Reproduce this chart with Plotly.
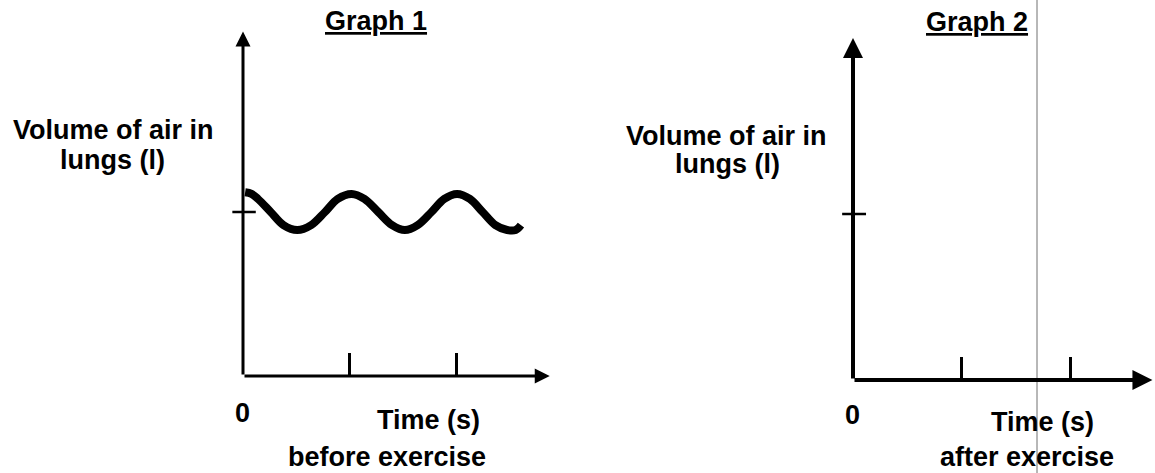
import plotly.graph_objects as go

W, H = 1155, 473

# Breathing trace recorded before exercise (time in tick units, volume in tick units)
time_before = [0.02, 0.08, 0.14, 0.26, 0.38, 0.51, 0.64, 0.77, 0.89, 1.02,
               1.14, 1.27, 1.40, 1.52, 1.64, 1.77, 1.89, 2.01, 2.13, 2.25,
               2.37, 2.48, 2.56, 2.61]
volume_before = [1.12, 1.11, 1.08, 1.00, 0.92, 0.89, 0.92, 1.00, 1.08, 1.11,
                 1.08, 1.00, 0.92, 0.89, 0.92, 1.00, 1.08, 1.11, 1.08, 1.00,
                 0.92, 0.89, 0.89, 0.92]

# Graph 2 is left blank for the student to complete
time_after = []
volume_after = []

x_ticks = [1, 2]
y_ticks = [1]

titles = ["Graph 1", "Graph 2"]
captions = ["before exercise", "after exercise"]
y_label_lines = ["Volume of air in", "lungs (l)"]
x_label = "Time (s)"
origin_label = "0"

FONT = "Liberation Sans, Arial, sans-serif"


def domain(px_origin, px_per_unit, r0, r1, size, flip=False):
    a = px_origin + r0 * px_per_unit
    b = px_origin + r1 * px_per_unit
    if flip:
        return [(size - a) / size, (size - b) / size]
    return [a / size, b / size]


def at(px, py):
    """Paper position from a pixel position on the page."""
    return px / W, 1 - py / H


# pixel anchors for each panel, plus where its text sits
panels = [
    dict(ox=243, ux=106.5, oy=376, uy=164, xr=[-0.3, 2.88], yr=[0, 2.10], lw=3,
         title=(376, 21), ylab=[(113, 130), (112, 160)], zero=(243, 413),
         xlab=(428, 420), cap=(387, 457)),
    dict(ox=853, ux=108.5, oy=380, uy=166, xr=[-0.3, 2.76], yr=[0, 2.06], lw=4,
         title=(977, 22), ylab=[(726, 136), (727, 164)], zero=(853, 415),
         xlab=(1042, 422), cap=(1027, 457)),
]

fig = go.Figure()

fig.add_trace(go.Scatter(
    x=time_before, y=volume_before, mode="lines",
    line=dict(color="black", width=8, shape="spline", smoothing=1.0),
    xaxis="x", yaxis="y", hoverinfo="skip", showlegend=False,
))
fig.add_trace(go.Scatter(
    x=time_after, y=volume_after, mode="lines",
    line=dict(color="black", width=8, shape="spline"),
    xaxis="x2", yaxis="y2", hoverinfo="skip", showlegend=False,
))

annotations = []
shapes = []
tfont = dict(family=FONT, size=27, color="black", weight=700)
for i, p in enumerate(panels):
    sfx = "" if i == 0 else str(i + 1)
    xa, ya = "x" + sfx, "y" + sfx
    xd = domain(p["ox"], p["ux"], p["xr"][0], p["xr"][1], W)
    yd = domain(p["oy"], -p["uy"], p["yr"][0], p["yr"][1], H, flip=True)
    common = dict(showgrid=False, zeroline=False, showline=False, fixedrange=True)
    fig.layout["xaxis" + sfx] = dict(
        domain=xd, range=p["xr"], anchor=ya, tickvals=x_ticks, ticks="inside",
        ticklen=23, tickwidth=2.5, tickcolor="black", showticklabels=False, **common)
    fig.layout["yaxis" + sfx] = dict(
        domain=yd, range=p["yr"], anchor=xa, showticklabels=False, ticks="", **common)

    # axes drawn as arrows
    annotations.append(dict(x=p["xr"][1], y=0, ax=0, ay=0, xref=xa, yref=ya,
                            axref=xa, ayref=ya, text="", showarrow=True,
                            arrowhead=2, arrowsize=1.0, arrowwidth=p["lw"],
                            arrowcolor="black"))
    annotations.append(dict(x=0, y=p["yr"][1], ax=0, ay=0, xref=xa, yref=ya,
                            axref=xa, ayref=ya, text="", showarrow=True,
                            arrowhead=2, arrowsize=1.0, arrowwidth=p["lw"],
                            arrowcolor="black"))
    # tick crossing the volume axis
    for yt in y_ticks:
        shapes.append(dict(type="line", xref=xa, yref=ya, x0=-0.1, x1=0.12,
                           y0=yt, y1=yt, line=dict(color="black", width=2.5)))

    items = [(p["zero"], origin_label), (p["xlab"], x_label),
             (p["cap"], captions[i]), (p["title"], "<u>" + titles[i] + "</u>")]
    items += list(zip(p["ylab"], y_label_lines))
    for pos, txt in items:
        x, y = at(*pos)
        annotations.append(dict(x=x, y=y, xref="paper", yref="paper", text=txt,
                                showarrow=False, font=tfont, align="center",
                                xanchor="center", yanchor="middle"))

# thin grey rule crossing the second panel
shapes.append(dict(type="line", xref="paper", yref="paper", x0=1037 / W,
                   x1=1037 / W, y0=0, y1=1, line=dict(color="#707070", width=1)))

fig.update_layout(
    width=W, height=H, margin=dict(l=0, r=0, t=0, b=0),
    paper_bgcolor="white", plot_bgcolor="white",
    annotations=annotations, shapes=shapes, showlegend=False,
    font=dict(family=FONT, color="black"),
)

fig.write_html("out.html", config={"displayModeBar": False})
